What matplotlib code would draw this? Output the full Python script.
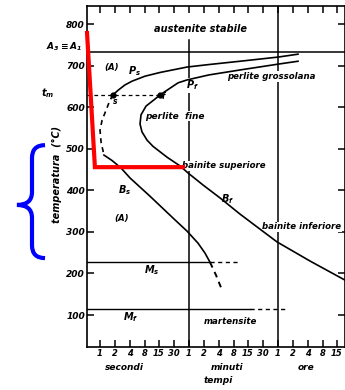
import numpy as np
import matplotlib
matplotlib.use("Agg")
import matplotlib.pyplot as plt
import matplotlib.transforms as mtransforms
from matplotlib.path import Path
from matplotlib.patches import PathPatch

plt.rcParams['font.family'] = ['DejaVu Sans']
plt.rcParams['font.weight'] = 'bold'
plt.rcParams['font.style'] = 'italic'
plt.rcParams['mathtext.fontset'] = 'custom'
plt.rcParams['mathtext.rm'] = 'DejaVu Sans:bold:italic'
plt.rcParams['mathtext.it'] = 'DejaVu Sans:bold:italic'

# livelli di temperatura (gradi C)
T_A1 = 733
T_m = 630
T_Ms = 227
T_Mf = 114

# curva di inizio trasformazione (tempo in s, temperatura)
start_t = [9130, 3633, 631, 150, 55, 15.9, 7.94, 4.37, 3.16, 2.29, 1.82]
start_T = [728, 721, 711, 703, 697, 684, 675, 663, 654, 641, 630]
start_dash_t = [1.82, 1.58, 1.32, 1.10, 1.0, 1.05, 1.20]
start_dash_T = [630, 617, 593, 569, 545, 516, 485]
bs_t = [1.20, 1.74, 2.63, 3.98, 10.0, 31.6, 55, 91.3, 126, 158.6]
bs_T = [485, 472, 454, 430, 386, 329, 302, 273, 249, 227]
bs_dash_t = [158.6, 209, 276]
bs_dash_T = [227, 196, 160]

# curva di fine trasformazione
finish_t = [9130, 3633, 631, 150, 55, 36.4, 25.1, 15.9, 12.6, 8.32, 6.61, 6.31, 6.9,
            8.73, 11.5, 21.9, 39.8, 57.6, 115, 251, 631, 3470, 15860, 79600]
finish_T = [711, 704, 690, 678, 666, 659, 646, 630, 620, 603, 582, 560, 541,
            521, 506, 480, 459, 442, 413, 382, 343, 276, 230, 184]

# punti s e f sulla isoterma t_m
dots_t = [1.82, 15.9]

# Ms / Mf: fine tratto continuo e fine tratteggio (s)
Ms_solid_end, Ms_dash_end = 158.6, 576
Mf_solid_end, Mf_dash_end = 1000, 5760

# divisori secondi/minuti/ore
div_t = [60, 3600]
div_top = [762, 844]

# linea rossa e graffa blu
red_t = [0.55, 0.79, 45.7]
red_T = [779, 456, 456]
brace_T = [237, 365, 509]

tick_s = [1, 2, 4, 8, 15, 30, 60, 120, 240, 480, 900, 1800,
          3600, 7200, 14400, 28800, 54000]
tick_lab = ['1', '2', '4', '8', '15', '30'] * 2 + ['1', '2', '4', '8', '15']
yticks = [100, 200, 300, 400, 500, 600, 700, 800]

fig = plt.figure(figsize=(3.45, 3.9), dpi=100)
ax = fig.add_axes([87/345, 1-347/390, (344.5-87)/345, (347-6)/390])
ax.set_xscale('log', base=2)
ax.set_xlim(0.549, 77700)
ax.set_ylim(23, 844)
ax.xaxis.set_minor_locator(matplotlib.ticker.NullLocator())
ax.set_xticks(tick_s)
ax.set_xticklabels(tick_lab, fontsize=6)
ax.set_yticks(yticks)
ax.set_yticklabels([str(v) for v in yticks], fontsize=6.5)
ax.tick_params(direction='in', length=5, width=1.1, top=True, right=True, pad=1.5)
for sp in ax.spines.values():
    sp.set_linewidth(1.2)

lw = 1.0
# divisori
for t, top in zip(div_t, div_top):
    ax.plot([t, t], [23, top], color='k', lw=1.1, zorder=1)

ax.axhline(T_A1, color='k', lw=1.1, zorder=1)
ax.plot([0.549, dots_t[1]], [T_m, T_m], color='k', lw=0.9, ls=(0, (3, 2.5)), zorder=1)
ax.plot([0.549, Ms_solid_end], [T_Ms, T_Ms], color='k', lw=lw, zorder=1)
ax.plot([Ms_solid_end, Ms_dash_end], [T_Ms, T_Ms], color='k', lw=lw, ls=(0, (3, 2.5)), zorder=1)
ax.plot([0.549, Mf_solid_end], [T_Mf, T_Mf], color='k', lw=lw, zorder=1)
ax.plot([Mf_solid_end, Mf_dash_end], [T_Mf, T_Mf], color='k', lw=lw, ls=(0, (3, 2.5)), zorder=1)

ax.plot(start_t, start_T, color='k', lw=1.2, zorder=3, solid_joinstyle='round')
ax.plot(start_dash_t, start_dash_T, color='k', lw=1.2, ls=(0, (3, 2.5)), zorder=3)
ax.plot(bs_t, bs_T, color='k', lw=1.2, zorder=3, solid_joinstyle='round')
ax.plot(bs_dash_t, bs_dash_T, color='k', lw=1.4, ls=(0, (3, 2.5)), zorder=3)
ax.plot(finish_t, finish_T, color='k', lw=1.2, zorder=3, solid_joinstyle='round')
ax.plot(dots_t, [T_m, T_m], 'o', color='k', ms=3.5, zorder=3)

ax.plot(red_t, red_T, color='#ff0000', lw=3, solid_joinstyle='miter', clip_on=False, zorder=5)

wb = dict(facecolor='white', edgecolor='none', pad=0.6)
fs = 6.2
ax.text(100, 789, 'austenite stabile', fontsize=7, ha='center', va='center', zorder=2)
ax.text(1.74, 696, '(A)', fontsize=fs, ha='center', va='center', zorder=2)
ax.text(5.0, 688, r'$P_s$', fontsize=7, ha='center', va='center', zorder=2)
ax.text(2630, 675, 'perlite grossolana', fontsize=fs, ha='center', va='center', bbox=wb, zorder=2)
ax.text(69, 653, r'$P_f$', fontsize=7, ha='center', va='center', bbox=wb, zorder=2)
ax.text(2.0, 613, 's', fontsize=5.5, ha='center', va='center', zorder=2)
ax.text(18.2, 625, 'f', fontsize=5.5, ha='center', va='center', zorder=2)
ax.text(31.6, 579, 'perlite  fine', fontsize=6.5, ha='center', va='center', bbox=wb, zorder=2)
ax.text(300, 459, 'bainite superiore', fontsize=fs, ha='center', va='center', bbox=wb, zorder=2)
ax.text(3.16, 401, r'$B_s$', fontsize=7, ha='center', va='center', zorder=2)
ax.text(363, 378, r'$B_f$', fontsize=7, ha='center', va='center', zorder=2)
ax.text(2.75, 333, '(A)', fontsize=fs, ha='center', va='center', zorder=2)
ax.text(10970, 312, 'bainite inferiore', fontsize=fs, ha='center', va='center', bbox=wb, zorder=2)
ax.text(11, 208, r'$M_s$', fontsize=7, ha='center', va='center', zorder=2)
ax.text(4.17, 95, r'$M_f$', fontsize=7, ha='center', va='center', zorder=2)
ax.text(399, 85, 'martensite', fontsize=fs, ha='center', va='center', zorder=2)

ty = mtransforms.blended_transform_factory(ax.transAxes, ax.transData)
ax.text(-0.02, 745, r'$\mathrm{A_3 \equiv A_1}$', fontsize=6.5, ha='right', va='center',
        transform=ty, clip_on=False)
ax.text(-0.151, 634, r'$t_m$', fontsize=7, ha='center', va='center', transform=ty, clip_on=False)
ax.text(-0.1165, 439, 'temperatura  (°C)', fontsize=7, rotation=90, ha='center', va='center',
        transform=ty, clip_on=False)

tx = mtransforms.blended_transform_factory(ax.transData, ax.transAxes)
ax.text(3.02, -0.0587, 'secondi', fontsize=6.5, ha='center', va='center', transform=tx, clip_on=False)
ax.text(347, -0.0587, 'minuti', fontsize=6.5, ha='center', va='center', transform=tx, clip_on=False)
ax.text(13200, -0.0587, 'ore', fontsize=6.5, ha='center', va='center', transform=tx, clip_on=False)
ax.text(229, -0.0997, 'tempi', fontsize=6.5, ha='center', va='center', transform=tx, clip_on=False)

# graffa blu
xe, xm, xt = -0.163, -0.2136, -0.272
r = 31
Tb, Tc, Tt = brace_T
verts = [(xe, Tt), (xm, Tt), (xm, Tt - r), (xm, Tc + r), (xm, Tc), (xt, Tc),
         (xm, Tc), (xm, Tc - r), (xm, Tb + r), (xm, Tb), (xe, Tb)]
codes = [Path.MOVETO, Path.CURVE3, Path.CURVE3, Path.LINETO, Path.CURVE3, Path.CURVE3,
         Path.CURVE3, Path.CURVE3, Path.LINETO, Path.CURVE3, Path.CURVE3]
ax.add_patch(PathPatch(Path(verts, codes), fill=False, edgecolor='#0000ff', lw=3,
                       capstyle='butt', transform=ty, clip_on=False))

fig.savefig('out.png', dpi=100)
